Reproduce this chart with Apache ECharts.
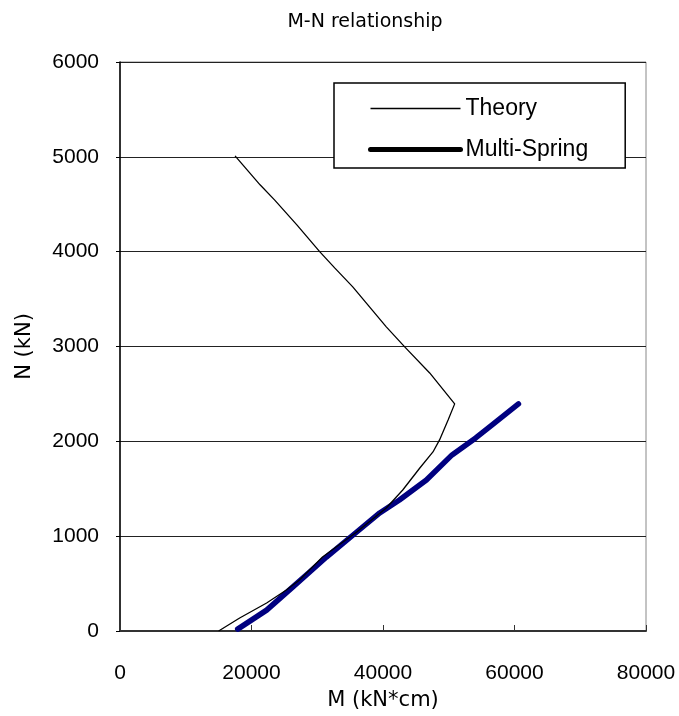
<!DOCTYPE html>
<html>
<head>
<meta charset="utf-8">
<script src="https://cdn.jsdelivr.net/npm/echarts@6/dist/echarts.min.js"></script>
<style>
  html, body { margin: 0; padding: 0; background: #fff; }
  #chart { width: 679px; height: 716px; }
</style>
</head>
<body>
<div id="chart"></div>
<script>
// Theory curve (M in kN*cm, N in kN), lower branch then upper branch
const theoryM = [15000, 18200, 22300, 25300, 27300, 30800, 36000, 40500, 43000, 45600, 47600, 48600, 49900, 50900,
    47100, 43300, 40500, 35400, 32650, 30400, 26900, 23500, 21300, 17500];
const theoryN = [0, 137, 295, 432, 538, 780, 1044, 1297, 1487, 1719, 1888, 2015, 2226, 2395,
    2721, 2996, 3207, 3629, 3829, 3998, 4283, 4546, 4705, 5010];

// Multi-Spring result
const springM = [17900, 22300, 26300, 28850, 31400, 36000, 39500, 42500, 46600, 50500, 54100, 56600, 60600];
const springN = [20, 220, 465, 622, 780, 1044, 1245, 1382, 1593, 1857, 2036, 2173, 2395];

const xTicks = [0, 20000, 40000, 60000, 80000];
const yTicks = [0, 1000, 2000, 3000, 4000, 5000, 6000];

const zip = (a, b) => a.map((v, i) => [v, b[i]]);

const chart = echarts.init(document.getElementById('chart'));

const hidden = {color: 'rgba(0,0,0,0)', borderWidth: 0, opacity: 0};

const option = {
    backgroundColor: '#fff',
    animation: false,
    title: {
        text: 'M-N relationship',
        left: 360,
        textAlign: 'center',
        top: 8,
        textStyle: {
            fontFamily: 'DejaVu Sans',
            fontWeight: 'normal',
            fontSize: 19,
            color: '#000'
        }
    },
    legend: {
        left: 334,
        top: 83,
        orient: 'vertical',
        backgroundColor: '#fff',
        borderColor: '#000',
        borderWidth: 1.5,
        borderRadius: 0,
        padding: [14, 37, 7, 34],
        itemGap: 18,
        itemWidth: 90,
        itemHeight: 14,
        textStyle: {
            fontFamily: 'Liberation Sans',
            fontSize: 23,
            color: '#000'
        },
        data: [
            {name: 'Theory', lineStyle: {color: '#000', width: 1.3}, itemStyle: hidden},
            {name: 'Multi-Spring', lineStyle: {color: '#000', width: 5}, itemStyle: hidden}
        ]
    },
    grid: {
        left: 120,
        right: 33,
        top: 62,
        bottom: 85,
        outerBoundsMode: 'none',
        show: true,
        borderColor: '#888',
        borderWidth: 1
    },
    xAxis: {
        type: 'value',
        min: xTicks[0],
        max: xTicks[xTicks.length - 1],
        interval: 20000,
        name: 'M (kN*cm)',
        nameLocation: 'middle',
        nameGap: 59,
        nameTextStyle: {
            fontFamily: 'DejaVu Sans',
            fontSize: 21,
            color: '#000'
        },
        axisLine: {lineStyle: {color: '#333', width: 2}},
        axisTick: {inside: true, length: 6, lineStyle: {color: '#333'}},
        axisLabel: {
            margin: 32,
            fontFamily: 'Liberation Sans',
            fontSize: 21,
            color: '#000',
            formatter: v => String(v)
        },
        splitLine: {show: false}
    },
    yAxis: {
        type: 'value',
        min: yTicks[0],
        max: yTicks[yTicks.length - 1],
        interval: 1000,
        name: 'N (kN)',
        nameLocation: 'middle',
        nameGap: 85,
        nameRotate: 90,
        nameTextStyle: {
            fontFamily: 'DejaVu Sans',
            fontSize: 21,
            color: '#000'
        },
        axisLine: {lineStyle: {color: '#000', width: 1.5}},
        axisTick: {inside: false, length: 4, lineStyle: {color: '#000'}},
        axisLabel: {
            margin: 21,
            fontFamily: 'Liberation Sans',
            fontSize: 21,
            color: '#000',
            formatter: v => String(v)
        },
        splitLine: {show: true, lineStyle: {color: '#222', width: 1}}
    },
    series: [
        {
            name: 'Theory',
            type: 'line',
            data: zip(theoryM, theoryN),
            showSymbol: false,
            symbol: 'none',
            lineStyle: {color: '#000', width: 1.3},
            itemStyle: {color: '#000'},
            z: 3
        },
        {
            name: 'Multi-Spring',
            type: 'line',
            data: zip(springM, springN),
            showSymbol: false,
            symbol: 'none',
            lineStyle: {color: '#000080', width: 5.5, cap: 'round', join: 'round'},
            itemStyle: {color: '#000080'},
            z: 2
        }
    ]
};

chart.setOption(option);
</script>
</body>
</html>
